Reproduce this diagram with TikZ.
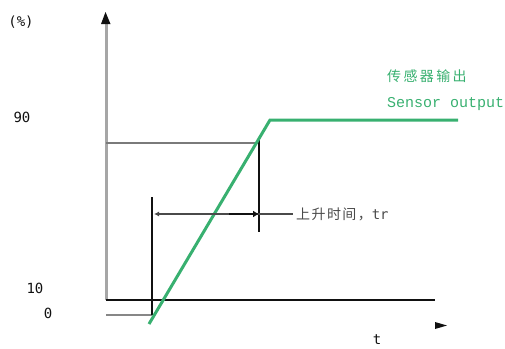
\documentclass[tikz,border=0pt]{standalone}
\usepackage{fontspec}
\setmonofont{DejaVu Sans Mono}
\newfontfamily\cjk{Noto Sans CJK SC}
\newfontfamily\labelmono{Liberation Mono}
\usepackage{xcolor}
\usetikzlibrary{arrows.meta,calc,positioning}
\definecolor{Sensor}{HTML}{38B070}
\definecolor{AxisGray}{HTML}{A6A6A6}
\definecolor{LevelGray}{HTML}{7A7A7A}
\definecolor{Ink}{HTML}{111111}
\definecolor{DimGray}{HTML}{4A4A4A}

\begin{document}
\begin{tikzpicture}[x=1pt,y=-1pt,
  yaxis/.style={AxisGray,line width=3pt},
  baseline/.style={Ink,line width=1.6pt},
  level/.style={LevelGray,line width=1.6pt},
  marker/.style={Ink,line width=1.4pt},
  response/.style={Sensor,line width=3pt,line join=miter},
  dimline/.style={DimGray,line width=1.6pt},
  tick/.style={font=\ttfamily\fontsize{14}{16}\selectfont,color=Ink},
  green label/.style={color=Sensor,anchor=west,inner sep=0pt}
]
\useasboundingbox (0,0) rectangle (505,348);

% axes
\coordinate (origin) at (106,300);
\coordinate (ytop) at (106,24);
\coordinate (xend) at (435,300);
\draw[yaxis] (origin) -- (ytop);
\fill[Ink] (101,24) -- (110.5,24) -- (105.5,12) -- cycle;
\draw[baseline] (origin) -- (xend);
\fill[Ink] (435,322) -- (447,325.5) -- (435,329) -- cycle;

% 0 and 90 levels
\coordinate (zeroL) at (106,315);
\coordinate (zeroR) at (152,315);
\coordinate (startTop) at (152,197);
\draw[level,LevelGray!90] (zeroL) -- (zeroR);
\draw[marker] (startTop) -- (zeroR);
\coordinate (nineL) at (106,143);
\coordinate (nineR) at (259,143);
\coordinate (endTop) at (259,140);
\coordinate (endBot) at (259,232);
\draw[level] (nineL) -- (nineR);
\draw[marker] (endTop) -- (endBot);

% sensor output
\coordinate (rampA) at (149,324);
\coordinate (knee) at (270,120);
\coordinate (flat) at (458,120);
\draw[response] (rampA) -- (knee) -- (flat);

% rise time
\coordinate (dimL) at (154,214);
\coordinate (dimR) at (293,214);
\coordinate (dimTip) at (259,214);
\draw[dimline,{Latex[length=5pt,width=5pt]}-] (dimL) -- (dimR);
\draw[Ink,line width=1.8pt,-{Latex[length=6pt,width=7pt]}] ($(dimTip)+(-30,0)$) -- (dimTip);
\node[anchor=west,inner sep=0pt,color=DimGray] (risetime) at (296,214)
  {{\cjk\fontsize{14}{16}\selectfont\addfontfeature{LetterSpace=10}上升时间，}{\ttfamily\fontsize{14}{16}\selectfont tr}};

% labels
\node[tick] (pct) at (21,22) {(\%)};
\node[tick] (l90) at (22,117) {90};
\node[tick] (l10) at (35,288) {10};
\node[tick] (l0) at (48,313) {0};
\node[tick] (tlab) at (377,340) {t};
\node[green label] (cn) at (387,76)
  {\cjk\fontsize{14}{16}\selectfont\addfontfeature{LetterSpace=17}传感器输出};
\node[green label] (en) at (387,104)
  {\labelmono\fontsize{15}{17}\selectfont Sensor output};
\end{tikzpicture}
\end{document}
